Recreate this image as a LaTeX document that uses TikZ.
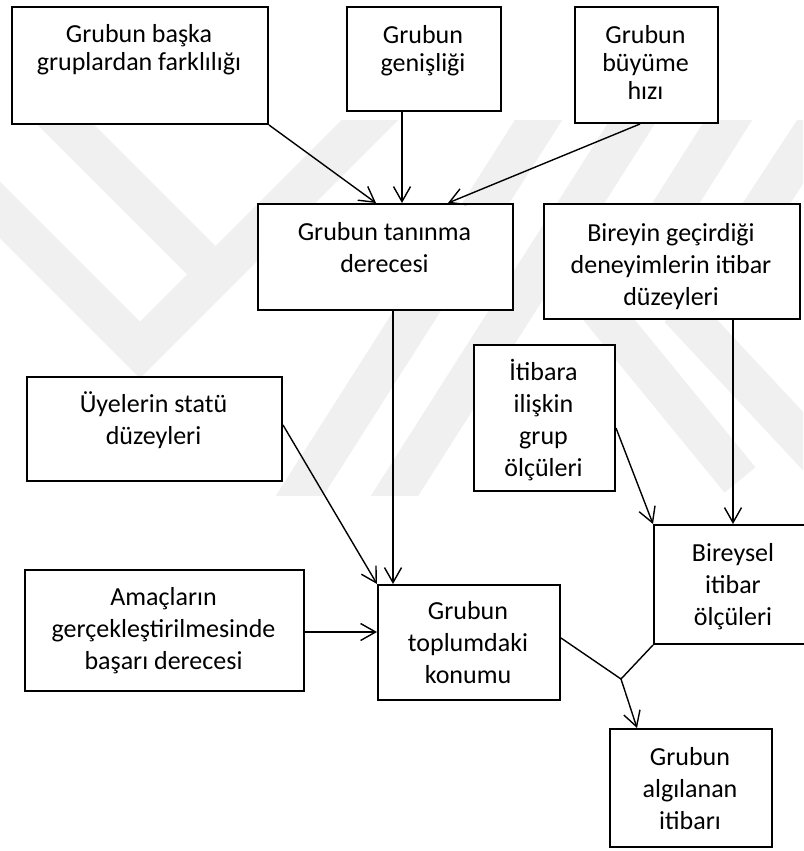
\documentclass[tikz,border=0pt]{standalone}
\usepackage{fontspec}
\setmainfont{Carlito}
\usetikzlibrary{arrows.meta}
\newcommand\topstrut{\rule{0pt}{24pt}}
\begin{document}
\begin{tikzpicture}[x=1pt,y=-1pt,
  box/.style={draw=black, line width=2pt, fill=white, inner sep=0pt, anchor=north west},
  lbl/.style={align=center, inner sep=0pt, anchor=north, text=black,
    font=\fontsize{26}{32}\selectfont},
  lbltop/.style={lbl, font=\fontsize{26}{28}\selectfont},
  conn/.style={line width=1.4pt, -{Straight Barb[length=15pt,width=17pt]}},
  link/.style={line width=1.4pt},
  band/.style={line width=40pt, draw=black!6}]
\useasboundingbox (0,0) rectangle (803,851);

% faint background stripes
\begin{scope}
  \clip (0,120) rectangle (803,495);
  \draw[band] (-45,165) -- (140,350) -- (395,95);
  \draw[band] (40,99) -- (215,274);
  \draw[band] (288,514) -- (557,91);
  \draw[band] (383,514) -- (652,91);
  \draw[band] (747,91) -- (605,315) -- (740,480);
  \draw[band] (840,91) -- (690,320) -- (830,470);
\end{scope}

% boxes
\node[box, minimum width=256pt, minimum height=117pt] (b1) at (11,6) {};
\node[box, minimum width=154pt, minimum height=104pt] (b2) at (346,6) {};
\node[box, minimum width=143pt, minimum height=116pt] (b3) at (574,6) {};
\node[box, minimum width=255pt, minimum height=106pt] (b4) at (257,203) {};
\node[box, minimum width=256pt, minimum height=115pt] (b5) at (543,203) {};
\node[box, minimum width=255pt, minimum height=104pt] (b6) at (26,376) {};
\node[box, minimum width=141pt, minimum height=146pt] (b7) at (473,344) {};
\node[box, minimum width=160pt, minimum height=119pt] (b8) at (653,524) {};
\node[box, minimum width=279pt, minimum height=121pt] (b9) at (24,569) {};
\node[box, minimum width=182pt, minimum height=115pt] (b10) at (377,584) {};
\node[box, minimum width=162pt, minimum height=118pt] (b11) at (609,728) {};

% labels
\node[lbltop] (t1) at (139,18) {\topstrut Grubun başka\\gruplardan farklılığı};
\node[lbltop] (t2) at (423,19) {\topstrut Grubun\\genişliği};
\node[lbltop] (t3) at (645.5,19) {\topstrut Grubun\\büyüme\\hızı};
\node[lbl] (t4) at (384.5,216) {\topstrut Grubun tanınma\\derecesi};
\node[lbl] (t5) at (671,217) {\topstrut Bireyin geçirdiği\\deneyimlerin itibar\\düzeyleri};
\node[lbl] (t6) at (153.5,388) {\topstrut Üyelerin statü\\düzeyleri};
\node[lbl] (t7) at (543.5,356) {\topstrut İtibara\\ilişkin\\grup\\ölçüleri};
\node[lbl] (t8) at (733,537) {\topstrut Bireysel\\itibar\\ölçüleri};
\node[lbl] (t9) at (163.5,581) {\topstrut Amaçların\\gerçekleştirilmesinde\\başarı derecesi};
\node[lbl] (t10) at (468,595) {\topstrut Grubun\\toplumdaki\\konumu};
\node[lbl] (t11) at (690,741) {\topstrut Grubun\\algılanan\\itibarı};

% connectors
\draw[conn] (b1.south east) -- ([xshift=119pt]b4.north west);
\draw[conn] ([xshift=56pt]b2.south west) -- ([xshift=145pt]b4.north west);
\draw[conn] ([xshift=66pt]b3.south west) -- ([xshift=191pt]b4.north west);
\draw[conn] ([xshift=136pt]b4.south west) -- ([xshift=16pt]b10.north west);
\draw[conn] ([yshift=-49pt]b6.north east) -- (b10.north west);
\coordinate (p6) at ([yshift=-63pt]b9.north east);
\draw[conn] (p6) -- (p6 -| b10.west);
\draw[conn] ([xshift=190pt]b5.south west) -- ([xshift=80pt]b8.north west);
\draw[conn] ([yshift=-84pt]b7.north east) -- (b8.north west);
\coordinate (j) at (621,679);
\draw[link] ([yshift=-54pt]b10.north east) -- (j) -- (b8.south west);
\draw[conn] (j) -- ([xshift=28pt]b11.north west);
\end{tikzpicture}
\end{document}
